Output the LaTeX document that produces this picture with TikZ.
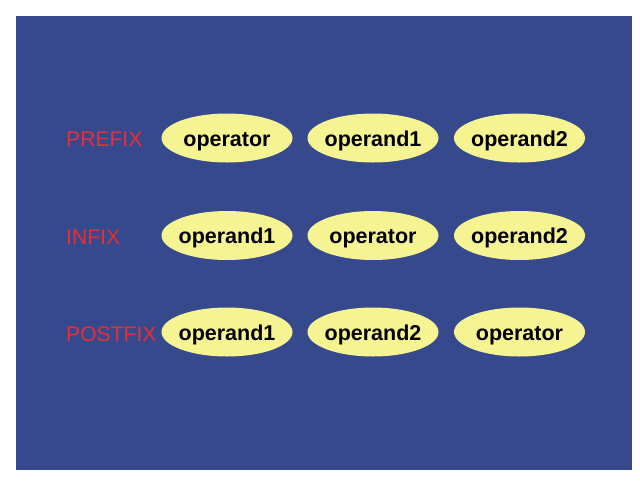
\documentclass[tikz,border=0pt]{standalone}
\usepackage{fontspec}
\setmainfont{Liberation Sans}
\usetikzlibrary{shapes.geometric}
\definecolor{bgblue}{RGB}{53,73,140}
\definecolor{ellyellow}{RGB}{246,243,146}
\definecolor{lblred}{RGB}{228,48,58}
\newcommand{\termtext}[1]{\makebox[0pt]{\raisebox{-8.3pt}[0pt][0pt]{#1}}}
\tikzset{
  term/.style={ellipse, fill=ellyellow, draw=none, minimum width=131pt, minimum height=49pt, inner sep=0pt,
    font=\fontsize{21.5}{24}\selectfont\bfseries, text=black},
  rowlabel/.style={anchor=base west, inner sep=0pt, font=\fontsize{21.1}{24}\selectfont, text=lblred}
}
\begin{document}
\begin{tikzpicture}[x=1pt,y=-1pt]
\useasboundingbox (0,0) rectangle (640,480);
\fill[white] (0,0) rectangle (640,480);
\fill[bgblue] (16,16) rectangle (632,470);
\node[rowlabel] (l1) at (66,146.5) {PREFIX};
\node[rowlabel] (l2) at (66,244) {INFIX};
\node[rowlabel] (l3) at (66,341) {POSTFIX};
\node[term] (a1) at (227,138) {\termtext{operator}};
\node[term] (a2) at (373,138) {\termtext{operand1}};
\node[term] (a3) at (519.5,138) {\termtext{operand2}};
\node[term] (b1) at (227,235.5) {\termtext{operand1}};
\node[term] (b2) at (373,235.5) {\termtext{operator}};
\node[term] (b3) at (519.5,235.5) {\termtext{operand2}};
\node[term] (c1) at (227,332) {\termtext{operand1}};
\node[term] (c2) at (373,332) {\termtext{operand2}};
\node[term] (c3) at (519.5,332) {\termtext{operator}};
\end{tikzpicture}
\end{document}
